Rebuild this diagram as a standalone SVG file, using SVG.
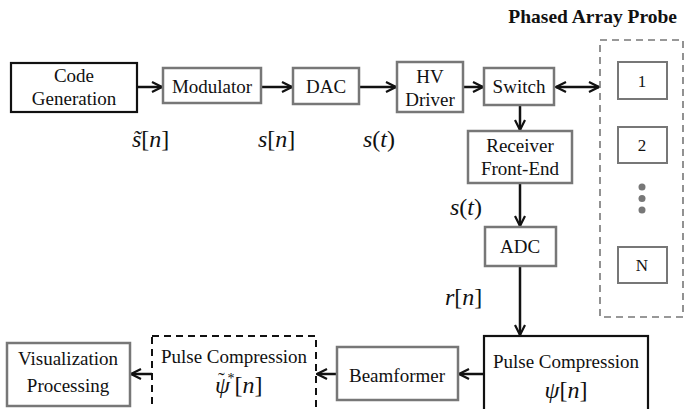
<svg xmlns="http://www.w3.org/2000/svg" width="694" height="409" viewBox="0 0 694 409">
<style>
text{font-family:'Liberation Serif',serif}
.t{font-size:19px;fill:#111;text-anchor:middle}
.m{font-size:24px;fill:#111}
.i{font-style:italic}
.g{fill:#fff;stroke:#777;stroke-width:2.5}
.k{fill:#fff;stroke:#111;stroke-width:2.2}
.kd{fill:#fff;stroke:#111;stroke-width:2;stroke-dasharray:7,5}
.gd{fill:none;stroke:#777;stroke-width:1.6;stroke-dasharray:7,5}
.c{stroke:#111;stroke-width:2.5;fill:none}
.n{font-size:17px;fill:#111;text-anchor:middle}
</style>
<defs>
<marker id="a" viewBox="0 0 12 12" refX="11" refY="6" markerWidth="12" markerHeight="12" markerUnits="userSpaceOnUse" orient="auto-start-reverse">
<path d="M1,1 L11,6 L1,11" fill="none" stroke="#111" stroke-width="2.2"/>
</marker>
</defs>
<text x="677" y="23" text-anchor="end" style="font-size:19.5px;font-weight:bold;fill:#111">Phased Array Probe</text>
<g id="connectors">
<line class="c" x1="137" y1="87" x2="162" y2="87" marker-end="url(#a)"/>
<line class="c" x1="261" y1="87" x2="292" y2="87" marker-end="url(#a)"/>
<line class="c" x1="359" y1="87" x2="396" y2="87" marker-end="url(#a)"/>
<line class="c" x1="463" y1="87" x2="483" y2="87" marker-end="url(#a)"/>
<line class="c" x1="556" y1="87" x2="599" y2="87" marker-start="url(#a)" marker-end="url(#a)"/>
<line class="c" x1="520" y1="105" x2="520" y2="130" marker-end="url(#a)"/>
<line class="c" x1="520" y1="183" x2="520" y2="226" marker-end="url(#a)"/>
<line class="c" x1="520" y1="266" x2="520" y2="335" marker-end="url(#a)"/>
<line class="c" x1="484" y1="374" x2="459" y2="374" marker-end="url(#a)"/>
<line class="c" x1="337" y1="374" x2="317" y2="374" marker-end="url(#a)"/>
<line class="c" x1="152" y1="374" x2="131" y2="374" marker-end="url(#a)"/>
</g>
<g id="codegen"><rect class="k" x="11" y="63" width="126" height="49"/><text class="t" x="74" y="82">Code</text><text class="t" x="74" y="105">Generation</text></g>
<g id="modulator"><rect class="g" x="163" y="68" width="98" height="35"/><text class="t" x="212" y="93">Modulator</text></g>
<g id="dac"><rect class="g" x="293" y="68" width="66" height="36"/><text class="t" x="326" y="93">DAC</text></g>
<g id="hvdriver"><rect class="g" x="397" y="62" width="66" height="50"/><text class="t" x="430" y="83">HV</text><text class="t" x="430" y="106">Driver</text></g>
<g id="switch"><rect class="g" x="484" y="68" width="70" height="37"/><text class="t" x="519" y="93">Switch</text></g>
<g id="probe"><rect class="gd" x="600" y="40" width="83" height="277"/>
<rect class="g" x="618" y="62" width="49" height="37" style="stroke-width:2"/><text class="n" x="642" y="87">1</text>
<rect class="g" x="618" y="127" width="49" height="36" style="stroke-width:2"/><text class="n" x="642" y="151">2</text>
<circle cx="642" cy="187" r="3.5" fill="#777"/><circle cx="642" cy="198.5" r="3.5" fill="#777"/><circle cx="642" cy="210" r="3.5" fill="#777"/>
<rect class="g" x="618" y="247" width="49" height="36" style="stroke-width:2"/><text class="n" x="642" y="271">N</text></g>
<g id="receiver"><rect class="g" x="468" y="131" width="104" height="52"/><text class="t" x="520" y="152">Receiver</text><text class="t" x="520" y="175">Front-End</text></g>
<g id="adc"><rect class="g" x="485" y="227" width="71" height="39"/><text class="t" x="520" y="253">ADC</text></g>
<g id="pc"><rect class="k" x="484" y="336" width="164" height="80"/><text class="t" x="566" y="368">Pulse Compression</text><text class="m" x="566" y="398" text-anchor="middle"><tspan class="i">ψ</tspan>[<tspan class="i">n</tspan>]</text></g>
<g id="beamformer"><rect class="g" x="337" y="347" width="121" height="53"/><text class="t" x="397" y="382">Beamformer</text></g>
<g id="pcconj"><rect class="kd" x="152" y="336" width="164" height="80"/><text class="t" x="234" y="363">Pulse Compression</text><text class="m" x="215" y="393"><tspan class="i">ψ</tspan><tspan dx="-12" dy="-6" style="font-size:20px">˜</tspan><tspan dx="3" dy="-4" style="font-size:14px">*</tspan><tspan dy="10">[</tspan><tspan class="i">n</tspan>]</text></g>
<g id="visual"><rect class="g" x="7" y="343" width="123" height="63"/><text class="t" x="68" y="365">Visualization</text><text class="t" x="68" y="392">Processing</text></g>
<g id="labels">
<text class="m" x="132" y="147"><tspan class="i">s̃</tspan>[<tspan class="i">n</tspan>]</text>
<text class="m" x="258" y="147"><tspan class="i">s</tspan>[<tspan class="i">n</tspan>]</text>
<text class="m" x="363" y="147"><tspan class="i">s</tspan>(<tspan class="i">t</tspan>)</text>
<text class="m" x="450" y="215"><tspan class="i">s</tspan>(<tspan class="i">t</tspan>)</text>
<text class="m" x="445" y="305"><tspan class="i">r</tspan>[<tspan class="i">n</tspan>]</text>
</g>
</svg>
